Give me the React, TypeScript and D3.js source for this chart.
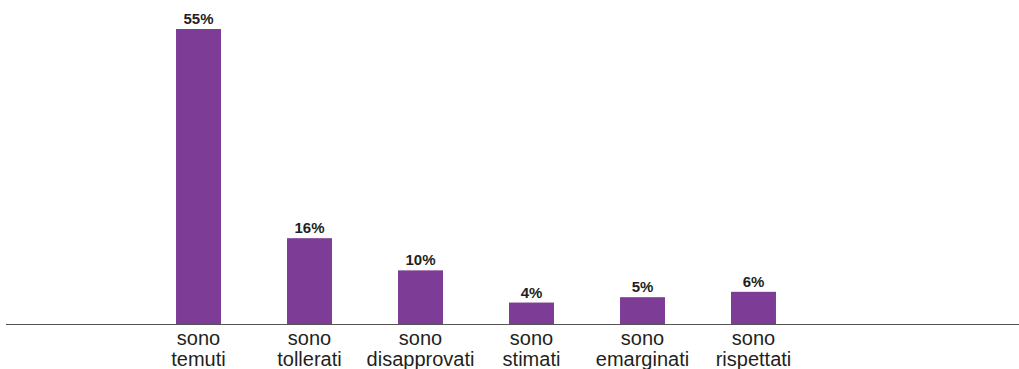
import React from "react";
import * as d3 from "d3";

const categories = ["sono temuti", "sono tollerati", "sono disapprovati", "sono stimati", "sono emarginati", "sono rispettati"];
const values = [55, 16, 10, 4, 5, 6];
const valueLabels = ["55%", "16%", "10%", "4%", "5%", "6%"];

const W = 1019;
const H = 369;
const baseY = 324;

export default function App() {
  const x = d3
    .scaleBand<string>()
    .domain(categories)
    .range([143, 143 + 666])
    .paddingInner(0.595)
    .paddingOuter(0.2975);
  const y = d3.scaleLinear().domain([0, 55]).range([baseY, 29]);
  const font = "'Liberation Sans', Arial, Helvetica, sans-serif";
  return (
    <svg width={W} height={H} style={{ position: "absolute", left: 0, top: 0 }}>
      <rect x={0} y={0} width={W} height={H} fill="#fff" />
      {categories.map((c, i) => {
        const bx = x(c)!;
        const cx = bx + x.bandwidth() / 2;
        const words = c.split(" ");
        return (
          <g key={c}>
            <rect x={bx} y={y(values[i])} width={x.bandwidth()} height={baseY - y(values[i])} fill="#7d3c96" />
            <text x={cx} y={y(values[i]) - 5} textAnchor="middle" fontFamily={font} fontWeight="bold" fontSize={15} fill="#231f20">
              {valueLabels[i]}
            </text>
            <text x={cx} y={345} textAnchor="middle" fontFamily={font} fontSize={20} fill="#231f20">
              {words[0]}
            </text>
            <text x={cx} y={366} textAnchor="middle" fontFamily={font} fontSize={20} fill="#231f20">
              {words.slice(1).join(" ")}
            </text>
          </g>
        );
      })}
      <line x1={6} x2={W} y1={baseY + 0.5} y2={baseY + 0.5} stroke="#555" strokeWidth={1.2} />
    </svg>
  );
}
